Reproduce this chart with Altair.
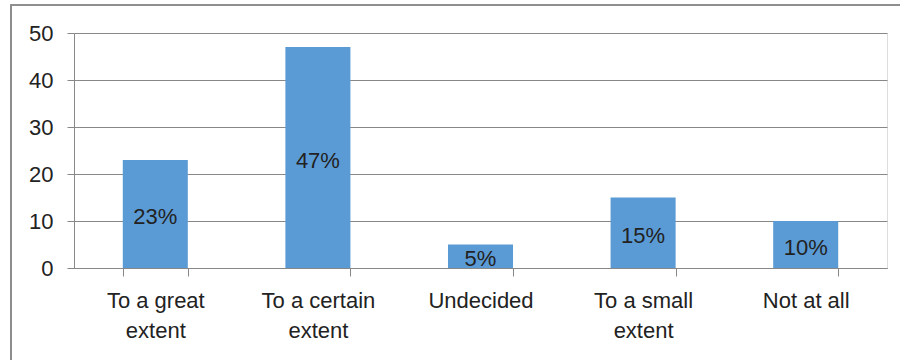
import altair as alt
import pandas as pd

categories = ["To a great extent", "To a certain extent", "Undecided", "To a small extent", "Not at all"]
values = [23, 47, 5, 15, 10]
labels = ["23%", "47%", "5%", "15%", "10%"]

df = pd.DataFrame({"cat": categories, "val": values, "lab": labels})
df["half"] = df["val"] / 2

FONT = "Liberation Sans"
label_expr = (
    "datum.value == 'To a great extent' ? ['To a great', 'extent'] : "
    "datum.value == 'To a certain extent' ? ['To a certain', 'extent'] : "
    "datum.value == 'To a small extent' ? ['To a small', 'extent'] : datum.value"
)

x = alt.X("cat:N", sort=categories, title=None,
          scale=alt.Scale(paddingInner=0.6, paddingOuter=0.3),
          axis=alt.Axis(labelAngle=0, labelExpr=label_expr, tickBand="extent",
                        labelFont=FONT, labelFontSize=22, labelColor="#222222",
                        labelPadding=14, labelLineHeight=30, tickSize=8,
                        tickColor="#888888", domainColor="#888888", grid=False))

bars = alt.Chart(df).mark_bar(color="#5B9BD5").encode(
    x=x,
    y=alt.Y("val:Q", title=None,
            scale=alt.Scale(domain=[0, 50]),
            axis=alt.Axis(values=[0, 10, 20, 30, 40, 50], labelFont=FONT,
                          labelFontSize=22, labelColor="#222222", labelPadding=14,
                          tickSize=7, tickColor="#888888", domainColor="#888888",
                          gridColor="#888888", gridOpacity=1)),
)

text = alt.Chart(df).mark_text(font=FONT, fontSize=22, color="#222222", baseline="middle", dy=3).encode(
    x=alt.X("cat:N", sort=categories),
    y=alt.Y("half:Q"),
    text="lab:N",
)

border = alt.Chart(df).mark_rect(fill=None, stroke="#8c8c8c", strokeWidth=1.2).encode(
    x=alt.value(-63), x2=alt.value(830), y=alt.value(-28), y2=alt.value(340)
)

chart = alt.layer(bars, text, border).properties(
    width=813, height=235,
    autosize=alt.AutoSizeParams(type="none"),
    padding={"left": 74, "top": 33, "right": 13, "bottom": 92},
).configure_view(stroke=None).configure(background="white")

chart.save("out.html", embed_options={"renderer": "svg", "actions": False})
